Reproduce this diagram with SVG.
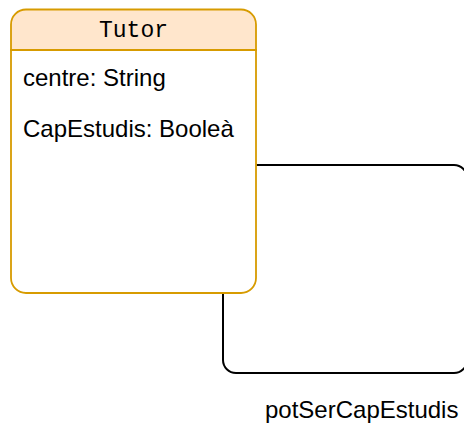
<svg xmlns="http://www.w3.org/2000/svg" width="464" height="423" viewBox="0 0 464 423">
<style>
.box{fill:#ffffff;stroke:#d79b00;stroke-width:1.8}
.hdr{fill:#ffe6cc;stroke:#d79b00;stroke-width:1.8}
.t{font-family:"Liberation Sans",Arial,sans-serif;font-size:24px;fill:#000}
.m{font-family:"Liberation Mono","DejaVu Sans Mono",monospace;font-size:23px;fill:#000}
.c{fill:none;stroke:#000;stroke-width:2}
</style>
<g id="connectors">
<path class="c" d="M256.5,165 H454 A13,13 0 0 1 467,178 V360 A13,13 0 0 1 454,373 H236 A13,13 0 0 1 223,360 V293"/>
<text class="t" x="265" y="418">potSerCapEstudis</text>
</g>
<g id="Tutor">
<path class="box" d="M11,50 H256 V278 A15,15 0 0 1 241,293 H26 A15,15 0 0 1 11,278 Z"/>
<path class="hdr" d="M11,50 V24.5 A15,15 0 0 1 26,9.5 H241 A15,15 0 0 1 256,24.5 V50 Z"/>
<text class="m" x="133.5" y="37" text-anchor="middle">Tutor</text>
<text class="t" x="23" y="86">centre: String</text>
<text class="t" x="23" y="137">CapEstudis: Booleà</text>
</g>
</svg>
